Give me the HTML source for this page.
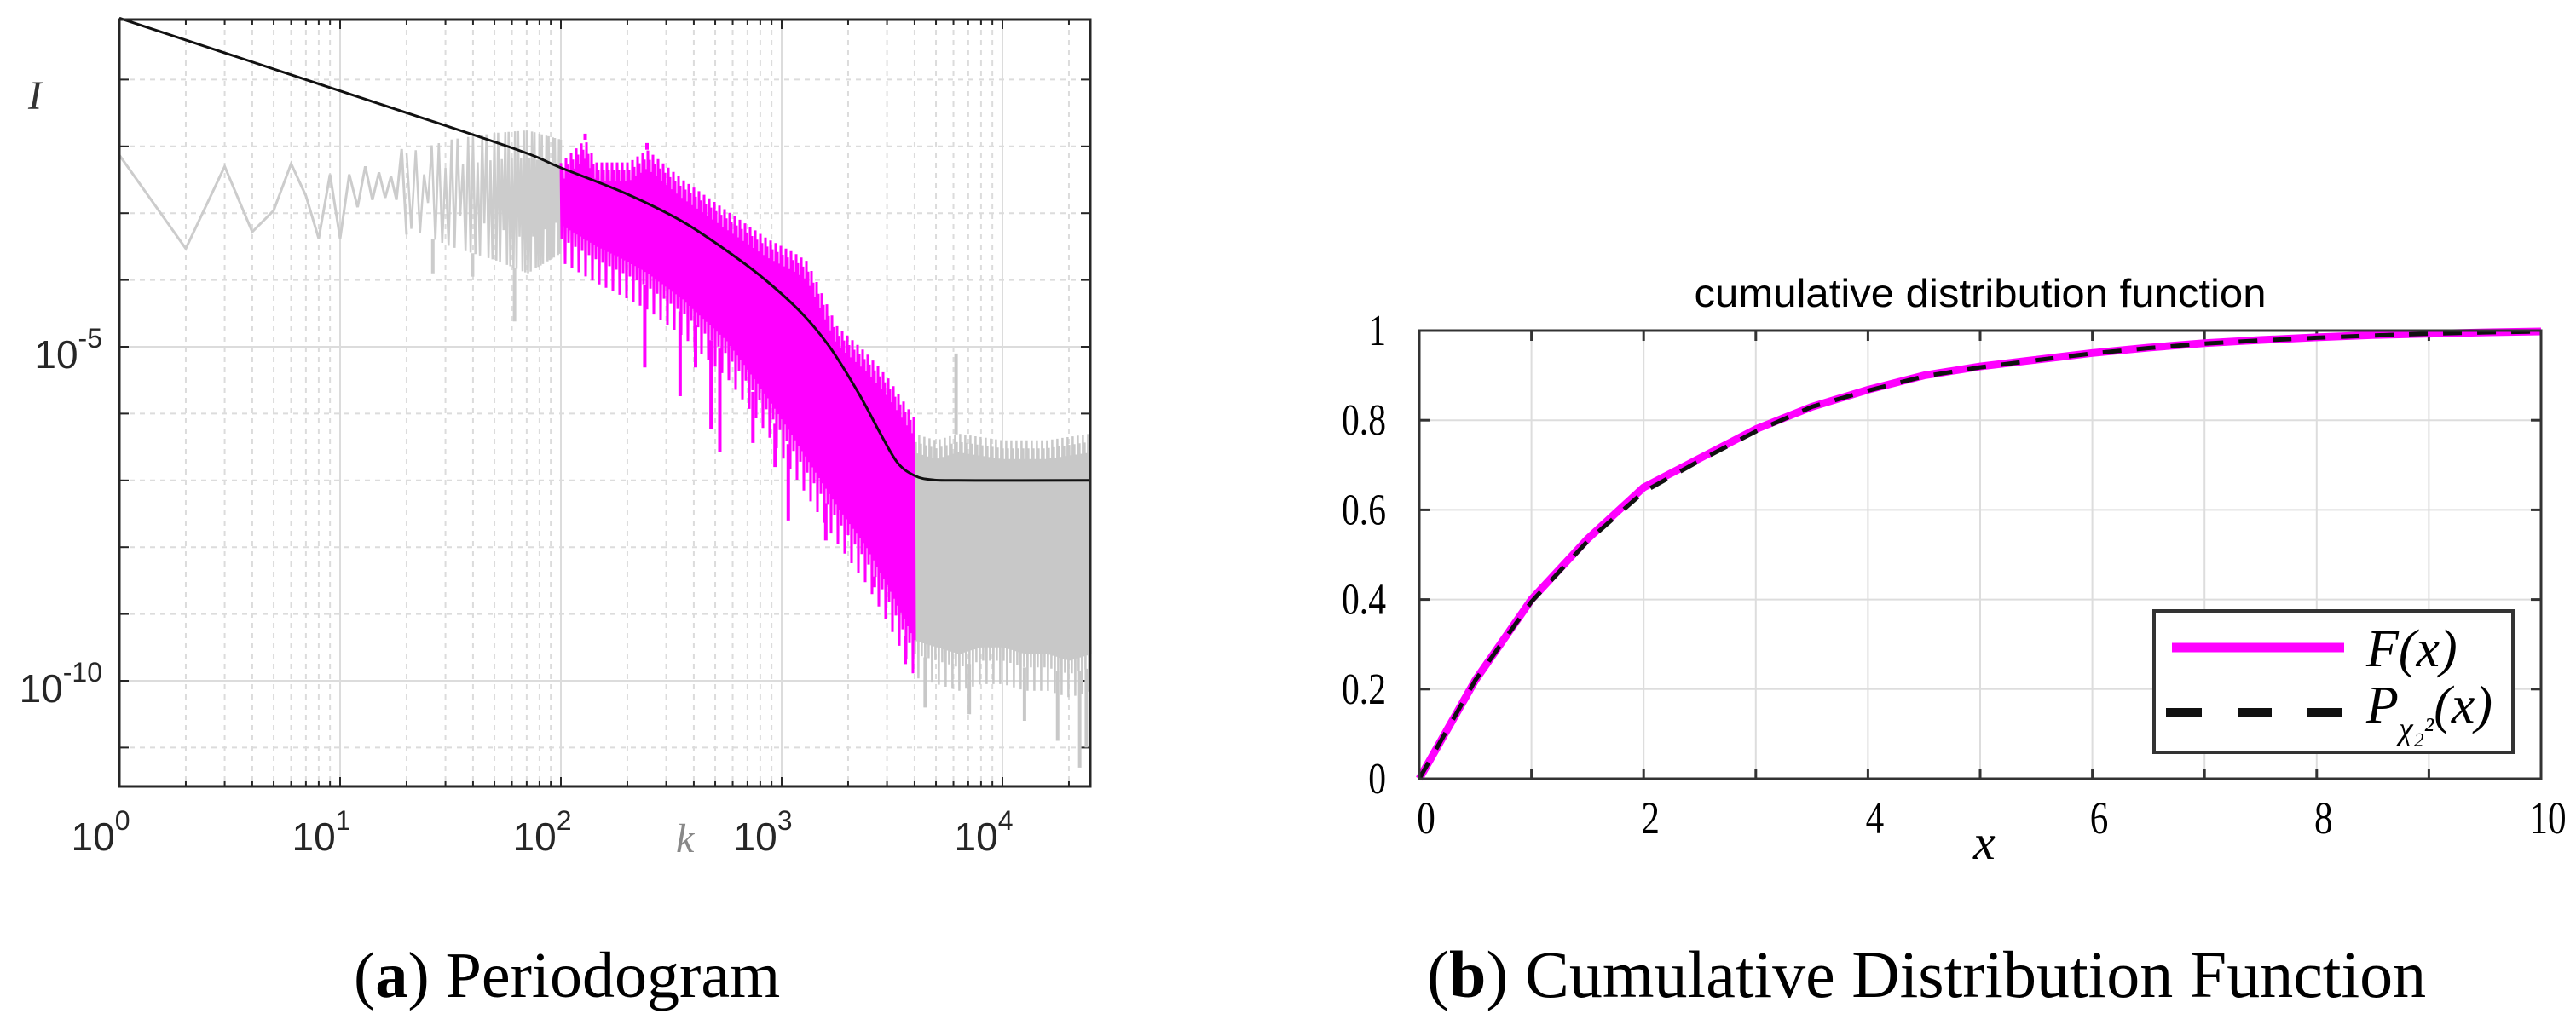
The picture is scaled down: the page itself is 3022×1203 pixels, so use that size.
<!DOCTYPE html>
<html><head><meta charset="utf-8"><style>
html,body{margin:0;padding:0;background:#fff;}
svg{display:block;}
</style></head><body>
<svg id="fig" width="3022" height="1203" viewBox="0 0 3022 1203" xmlns="http://www.w3.org/2000/svg">
<g id="left"></g>
<g id="right"></g>
<text x="415" y="1170" font-family="Liberation Serif, serif" font-size="76" fill="#000">(<tspan font-weight="bold">a</tspan>) Periodogram</text>
<text x="1674" y="1170" font-family="Liberation Serif, serif" font-size="78" fill="#000">(<tspan font-weight="bold">b</tspan>) Cumulative Distribution Function</text>
</svg>
<script>
// ===== Periodogram data (log10 k, log10 I) =====
const fitLogK = [0, 1.0, 1.776, 2.0, 2.29, 2.548, 2.78, 2.934, 3.089, 3.217, 3.346, 3.449, 3.526, 3.603, 3.68, 3.8, 4.4];
const fitLogI = [-0.08, -1.17, -2.02, -2.32, -2.70, -3.12, -3.63, -4.02, -4.49, -5.0, -5.68, -6.31, -6.74, -6.93, -6.99, -7.0, -7.0];
const lowK = [1,2,3,4,5,6,7,8,9,10,11,12,13,14,15,16,17,18,19,20];
const lowLogI = [-2.13,-3.53,-2.30,-3.28,-2.96,-2.26,-2.74,-3.38,-2.42,-3.38,-2.42,-2.91,-2.30,-2.80,-2.39,-2.77,-2.45,-2.80,-2.04,-3.32];
const grayMidLogK = [1.3, 1.5, 1.7, 1.85, 2.0];
const grayMidUpper = [-2.1, -1.9, -1.8, -1.76, -1.9];
const grayMidLower = [-3.2, -3.5, -3.7, -3.9, -3.6];
const grayMidSpikeK = [1.79, 1.42, 1.6];
const grayMidSpikeI = [-4.62, -3.9, -3.95];
const magLogK = [2.0, 2.11, 2.16, 2.31, 2.39, 2.548, 2.75, 2.934, 3.06, 3.115, 3.25, 3.38, 3.48, 3.6];
const magUpper = [-2.25, -1.9, -2.24, -2.24, -2.05, -2.49, -2.96, -3.38, -3.6, -3.72, -4.69, -5.08, -5.46, -6.06];
const magLower = [-3.38, -3.6, -3.7, -3.95, -4.1, -4.49, -5.12, -5.97, -6.61, -6.9, -7.6, -8.2, -8.8, -9.6];
const magSpikeK = [2.11, 2.39, 2.38, 2.54, 2.61, 2.68, 2.72, 2.87, 2.97, 3.03, 3.2, 3.42, 3.56];
const magSpikeI = [-1.81, -1.95, -5.31, -5.74, -5.31, -6.23, -6.57, -6.44, -6.8, -7.6, -7.9, -8.6, -9.75];
const grayHiLogK = [3.6, 3.7, 3.8, 3.9, 4.0, 4.1, 4.2, 4.3, 4.4];
const grayHiUpper = [-6.3, -6.4, -6.3, -6.35, -6.4, -6.4, -6.4, -6.35, -6.3];
const grayHiLower = [-9.6, -9.7, -9.8, -9.7, -9.7, -9.8, -9.8, -9.9, -9.8];
const grayHiSpikeK = [3.65, 3.79, 3.85, 4.1, 4.25, 4.35, 4.38];
const grayHiSpikeI = [-10.4, -5.1, -10.5, -10.6, -10.9, -11.3, -11.0];
const xTickExp = [0, 1, 2, 3, 4];
const yTickExp = [-5, -10];

// ===== CDF data =====
const cdfX = [0,0.5,1,1.5,2,2.5,3,3.5,4,4.5,5,5.5,6,6.5,7,7.5,8,8.5,9,9.5,10];
const cdfF = [0,0.22,0.40,0.535,0.65,0.715,0.78,0.83,0.868,0.9,0.92,0.935,0.95,0.962,0.972,0.979,0.985,0.99,0.993,0.996,0.998];
const cdfP = [0,0.22,0.395,0.53,0.64,0.71,0.775,0.83,0.866,0.898,0.918,0.934,0.949,0.961,0.971,0.978,0.984,0.989,0.993,0.996,0.998];
const cdfXTicks = [0,2,4,6,8,10];
const cdfYTicks = [0,0.2,0.4,0.6,0.8,1];
const cdfYLabels = ['0','0.2','0.4','0.6','0.8','1'];

const NS = 'http://www.w3.org/2000/svg';
function mk(parent, tag, attrs) {
  const e = document.createElementNS(NS, tag);
  for (const k in attrs) e.setAttribute(k, attrs[k]);
  parent.appendChild(e);
  return e;
}
function interp(ks, arr, lk) {
  if (lk <= ks[0]) return arr[0];
  for (let i = 0; i < ks.length - 1; i++) {
    if (lk >= ks[i] && lk <= ks[i+1]) { const t = (lk - ks[i]) / (ks[i+1] - ks[i]); return arr[i] + t * (arr[i+1] - arr[i]); }
  }
  return arr[arr.length - 1];
}
// ---------- left axes ----------
const L = {x0:140, x1:1279, y0:23, y1:923};
const LX = lk => L.x0 + lk * 259;
const LY = li => 407 + (-5 - li) * 78.4;
const lg = document.getElementById('left');

for (let d = 0; d <= 4; d++) {
  for (let m = 1; m <= 9; m++) {
    const lk = d + Math.log10(m);
    if (lk > 4.4) break;
    const x = LX(lk);
    const gl = mk(lg, 'line', {x1:x, x2:x, y1:L.y0, y2:L.y1, stroke:'#dcdcdc', 'stroke-width':2, 'stroke-dasharray': m === 1 ? 'none' : '6,6'});
    
    
    const tl = m === 1 ? 11 : 6;
    const t1 = mk(lg, 'line', {x1:x, x2:x, y1:L.y1, y2:L.y1 - tl, stroke:'#262626', 'stroke-width':2});
    
    
    const t2 = mk(lg, 'line', {x1:x, x2:x, y1:L.y0, y2:L.y0 + tl, stroke:'#262626', 'stroke-width':2});
    
    
  }
}
for (let e = -1; e >= -11; e--) {
  const y = LY(e);
  const major = (e === -5 || e === -10);
  const gl = mk(lg, 'line', {x1:L.x0, x2:L.x1, y1:y, y2:y, stroke:'#dcdcdc', 'stroke-width':2, 'stroke-dasharray': major ? 'none' : '6,6'});
  
  
  const t1 = mk(lg, 'line', {x1:L.x0, x2:L.x0 + 11, y1:y, y2:y, stroke:'#262626', 'stroke-width':2});
  
  
  const t2 = mk(lg, 'line', {x1:L.x1, x2:L.x1 - 11, y1:y, y2:y, stroke:'#262626', 'stroke-width':2});
  
  
}

const sg = mk(lg, 'g', {});



// noise drawn as zigzag between envelopes; stepPx = horizontal spacing
function noise(ks, up, lo, color, stepPx, width, name) {
  let d = '';
  let i = 0;
  const xs = LX(ks[0]), xe = LX(ks[ks.length - 1]);
  for (let x = xs; x <= xe; x += stepPx, i++) {
    const lk = (x - L.x0) / 259;
    const u = interp(ks, up, lk), l = interp(ks, lo, lk);
    const jitterU = (i % 3 === 0) ? 0 : (i % 3 === 1 ? 0.12 : 0.28);
    const jitterL = (i % 4 === 0) ? 0 : (i % 4 === 2 ? -0.35 : 0.2);
    d += (i ? 'L' : 'M') + x.toFixed(1) + ',' + LY(u - jitterU).toFixed(1) + 'L' + (x + stepPx / 2).toFixed(1) + ',' + LY(l + jitterL).toFixed(1);
  }
  const p = mk(sg, 'path', {d: d, stroke: color, 'stroke-width': width, fill: 'none', 'stroke-linejoin': 'miter'});
  
  
}
function spikes(ks, is, refK, ups, lows, color, name) {
  for (let i = 0; i < ks.length; i++) {
    const u = interp(refK, ups, ks[i]), l = interp(refK, lows, ks[i]);
    const base = is[i] > u ? u : l;
    const s = mk(sg, 'line', {x1:LX(ks[i]), x2:LX(ks[i]), y1:LY(base), y2:LY(is[i]), stroke:color, 'stroke-width':4});
    
    
  }
}

let dLow = '';
for (let i = 0; i < lowK.length; i++) dLow += (i ? 'L' : 'M') + LX(Math.log10(lowK[i])) + ',' + LY(lowLogI[i]);
const lowPath = mk(sg, 'path', {d: dLow, stroke: '#cccccc', 'stroke-width': 3, fill: 'none'});



// gray mid: one zigzag per integer k
let dMid = '';
for (let k = 20; k <= 100; k++) {
  const lk = Math.log10(k);
  const v = (k % 2 === 0) ? interp(grayMidLogK, grayMidUpper, lk) + ((k % 6 === 0) ? -0.4 : 0) : interp(grayMidLogK, grayMidLower, lk) + ((k % 5 === 0) ? 0.5 : 0);
  dMid += (k === 20 ? 'M' : 'L') + LX(lk).toFixed(1) + ',' + LY(v).toFixed(1);
}
const midPath = mk(sg, 'path', {d: dMid, stroke: '#cccccc', 'stroke-width': 2.5, fill: 'none'});


spikes(grayMidSpikeK, grayMidSpikeI, grayMidLogK, grayMidUpper, grayMidLower, '#cccccc', 'gray-spike');

noise(grayHiLogK, grayHiUpper, grayHiLower, '#c8c8c8', 2, 2.5, 'periodogram-gray-high');
spikes(grayHiSpikeK, grayHiSpikeI, grayHiLogK, grayHiUpper, grayHiLower, '#c8c8c8', 'gray-spike');
noise(magLogK, magUpper, magLower, '#ff00ff', 2, 3, 'periodogram-magenta-band');
spikes(magSpikeK, magSpikeI, magLogK, magUpper, magLower, '#ff00ff', 'magenta-spike');

// smooth fit line (Catmull-Rom through the data points)
let dFit = 'M' + LX(fitLogK[0]) + ',' + LY(fitLogI[0]);
for (let i = 0; i < fitLogK.length - 1; i++) {
  const p0 = [LX(fitLogK[Math.max(0, i-1)]), LY(fitLogI[Math.max(0, i-1)])];
  const p1 = [LX(fitLogK[i]), LY(fitLogI[i])];
  const p2 = [LX(fitLogK[i+1]), LY(fitLogI[i+1])];
  const p3 = [LX(fitLogK[Math.min(fitLogK.length-1, i+2)]), LY(fitLogI[Math.min(fitLogK.length-1, i+2)])];
  const c1 = [p1[0] + (p2[0]-p0[0])/6, p1[1] + (p2[1]-p0[1])/6];
  const c2 = [p2[0] - (p3[0]-p1[0])/6, p2[1] - (p3[1]-p1[1])/6];
  dFit += 'C' + c1.join(',') + ' ' + c2.join(',') + ' ' + p2.join(',');
}
const fit = mk(lg, 'path', {d: dFit, stroke: '#111', 'stroke-width': 3, fill: 'none'});



const box = mk(lg, 'rect', {x:L.x0, y:L.y0, width:L.x1 - L.x0, height:L.y1 - L.y0, fill:'none', stroke:'#262626', 'stroke-width':3});



for (const e of xTickExp) {
  const t = mk(lg, 'text', {x: LX(e) - 22, y: 998, 'font-family':'Liberation Sans, sans-serif', 'font-size':46, fill:'#262626', 'text-anchor':'middle'});
  t.textContent = '10';
  const s = mk(t, 'tspan', {dy: -24, 'font-size': 32});
  s.textContent = String(e);
  
  
}
for (const e of yTickExp) {
  const t = mk(lg, 'text', {x: 120, y: LY(e) + 25, 'font-family':'Liberation Sans, sans-serif', 'font-size':46, fill:'#262626', 'text-anchor':'end'});
  t.textContent = '10';
  const s = mk(t, 'tspan', {dy: -24, 'font-size': 32});
  s.textContent = String(e);
  
  
}
const yl = mk(lg, 'text', {x: 33, y: 128, 'font-family':'Liberation Serif, serif', 'font-style':'italic', 'font-size':48, fill:'#333'});
yl.textContent = 'I';


const xl = mk(lg, 'text', {x: 793, y: 1000, 'font-family':'Liberation Serif, serif', 'font-style':'italic', 'font-size':48, fill:'#888'});
xl.textContent = 'k';



// ---------- right axes ----------
const R = {x0:1665, x1:2981, y0:388, y1:914};
const RX = v => R.x0 + v * 131.6;
const RY = v => R.y1 - v * 526;
const rg = document.getElementById('right');
for (let i = 1; i <= 9; i++) {
  const g = mk(rg, 'line', {x1:RX(i), x2:RX(i), y1:R.y0, y2:R.y1, stroke:'#dddddd', 'stroke-width':2});
  
  
  const t = mk(rg, 'line', {x1:RX(i), x2:RX(i), y1:R.y1, y2:R.y1 - 12, stroke:'#333', 'stroke-width':3});
  
  
  const t2 = mk(rg, 'line', {x1:RX(i), x2:RX(i), y1:R.y0, y2:R.y0 + 12, stroke:'#333', 'stroke-width':3});
  
  
}
function condensed(parent, x, y, str, size, anchor, sx, family) {
  const g = mk(parent, 'g', {transform: 'translate(' + x + ',' + y + ') scale(' + sx + ',1)'});
  const t = mk(g, 'text', {x: 0, y: 0, 'font-family': family, 'font-size': size, fill: '#000', 'text-anchor': anchor});
  t.textContent = str;
  return t;
}
for (let i = 0; i < cdfYTicks.length; i++) {
  const v = cdfYTicks[i];
  if (v > 0 && v < 1) {
    const g = mk(rg, 'line', {x1:R.x0, x2:R.x1, y1:RY(v), y2:RY(v), stroke:'#dddddd', 'stroke-width':2});
    
    
    const t = mk(rg, 'line', {x1:R.x0, x2:R.x0 + 12, y1:RY(v), y2:RY(v), stroke:'#333', 'stroke-width':3});
    
    
    const t2 = mk(rg, 'line', {x1:R.x1, x2:R.x1 - 12, y1:RY(v), y2:RY(v), stroke:'#333', 'stroke-width':3});
    
    
  }
  const lb = condensed(rg, 1626, RY(v) + 17, cdfYLabels[i], 52, 'end', 0.8, 'Liberation Serif, serif');
  
  
}
for (const v of cdfXTicks) {
  const lb = condensed(rg, RX(v) + 8, 978, String(v), 54, 'middle', 0.8, 'Liberation Serif, serif');
  
  
}
let dF = '', dP = '';
for (let i = 0; i < cdfX.length; i++) {
  dF += (i ? 'L' : 'M') + RX(cdfX[i]) + ',' + RY(cdfF[i]);
  dP += (i ? 'L' : 'M') + RX(cdfX[i]) + ',' + RY(cdfP[i]);
}
const fLine = mk(rg, 'path', {d: dF, stroke:'#ff00ff', 'stroke-width':9, fill:'none', 'stroke-linejoin':'round'});


const pLine = mk(rg, 'path', {d: dP, stroke:'#111', 'stroke-width':5, fill:'none', 'stroke-dasharray':'22,18'});


const rbox = mk(rg, 'rect', {x:R.x0, y:R.y0, width:R.x1 - R.x0, height:R.y1 - R.y0, fill:'none', stroke:'#333', 'stroke-width':3});


const title = mk(rg, 'text', {x: 2323, y: 360, 'font-family':'Liberation Sans, sans-serif', 'font-size':46, fill:'#000', 'text-anchor':'middle', textLength: 671, lengthAdjust: 'spacingAndGlyphs'});
title.textContent = 'cumulative distribution function';


const xt = mk(rg, 'text', {x: 2315, y: 1008, 'font-family':'Liberation Serif, serif', 'font-style':'italic', 'font-size':58, fill:'#000'});
xt.textContent = 'x';



// legend
const lgd = mk(rg, 'g', {});


const lr = mk(lgd, 'rect', {x:2527, y:717, width:421, height:166, fill:'#fff', stroke:'#333', 'stroke-width':4});


const ls1 = mk(lgd, 'line', {x1:2548, x2:2750, y1:760, y2:760, stroke:'#ff00ff', 'stroke-width':11});


const ls2 = mk(lgd, 'line', {x1:2541, x2:2747, y1:836, y2:836, stroke:'#111', 'stroke-width':10, 'stroke-dasharray':'0,0,42,42,40,42,40'});


const lt1 = mk(lgd, 'text', {x:2776, y:782, 'font-family':'Liberation Serif, serif', 'font-style':'italic', 'font-size':62, fill:'#000'});
lt1.textContent = 'F(x)';


const lt2 = mk(lgd, 'text', {x:2776, y:848, 'font-family':'Liberation Serif, serif', 'font-style':'italic', 'font-size':62, fill:'#000'});
lt2.textContent = 'P';
const sub = mk(lt2, 'tspan', {dy: 20, 'font-size': 38});
sub.textContent = 'χ₂²';
const rest = mk(lt2, 'tspan', {dy: -20});
rest.textContent = '(x)';


</script>
</body></html>
